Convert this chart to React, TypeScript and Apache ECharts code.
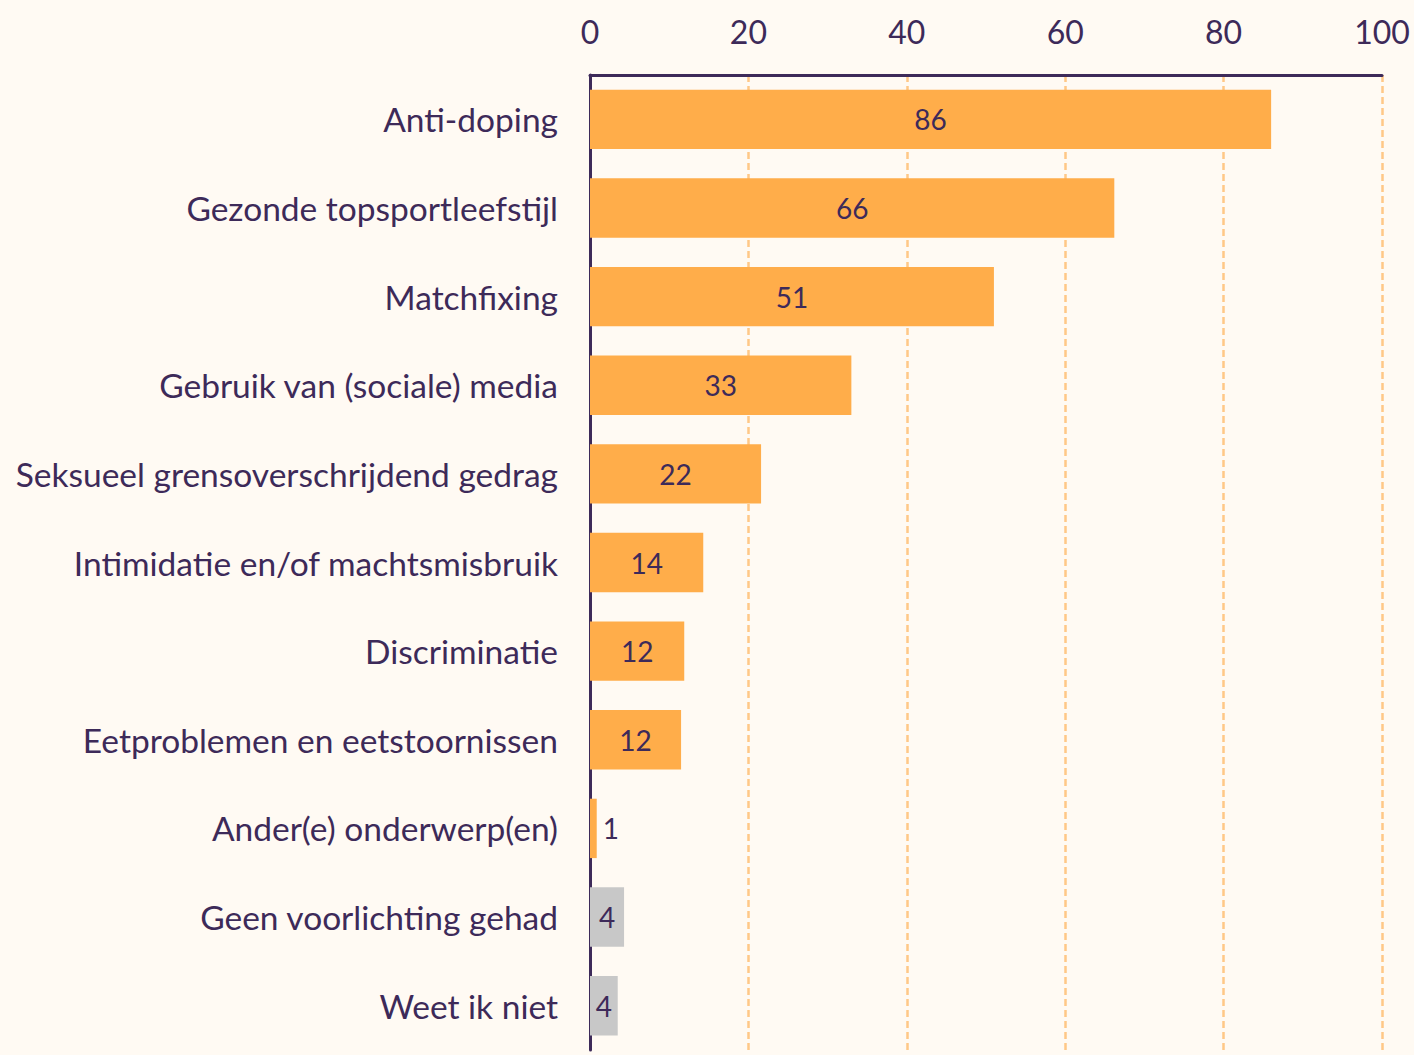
import { useEffect, useRef } from 'react';
import * as echarts from 'echarts';

const categories = [
  'Anti-doping',
  'Gezonde topsportleefstijl',
  'Matchfixing',
  'Gebruik van (sociale) media',
  'Seksueel grensoverschrijdend gedrag',
  'Intimidatie en/of machtsmisbruik',
  'Discriminatie',
  'Eetproblemen en eetstoornissen',
  'Ander(e) onderwerp(en)',
  'Geen voorlichting gehad',
  'Weet ik niet',
];
const values = [86, 66.2, 51, 33, 21.6, 14.3, 11.9, 11.5, 0.85, 4.3, 3.5];
const isGray = [false, false, false, false, false, false, false, false, false, true, true];
const xTicks = [0, 20, 40, 60, 80, 100];

const TEXT = '#3d2a59';
const ORANGE = '#ffad4a';
const GRAY = '#c8c8c8';
const BG = '#fffaf3';

export default function App() {
  const chartRef = useRef<HTMLDivElement>(null);

  useEffect(() => {
    if (!chartRef.current) return;
    document.body.style.margin = '0';
    document.body.style.background = BG;
    const chart = echarts.init(chartRef.current, null, { renderer: 'svg' });

    const data = values.map((v, i) => ({
      value: v,
      itemStyle: { color: isGray[i] ? GRAY : ORANGE },
      label: { position: v < 2 ? 'right' : 'inside', distance: 6 },
    }));

    chart.setOption({
      animation: false,
      backgroundColor: BG,
      textStyle: { fontFamily: 'Lato' },
      grid: { left: 590, right: 32, top: 75, bottom: 5, containLabel: false },
      xAxis: {
        type: 'value',
        position: 'top',
        min: xTicks[0],
        max: xTicks[xTicks.length - 1],
        interval: 20,
        axisLine: { show: true, lineStyle: { color: TEXT, width: 3 } },
        axisTick: { show: false },
        axisLabel: { color: TEXT, fontSize: 32, margin: 28, fontFamily: 'Lato' },
        splitLine: { show: true, lineStyle: { color: '#ffc887', type: [7, 4], width: 2.5 } },
      },
      yAxis: {
        type: 'category',
        data: categories,
        inverse: true,
        axisLine: { show: true, lineStyle: { color: TEXT, width: 3 } },
        axisTick: { show: false },
        axisLabel: { color: TEXT, fontSize: 33.5, margin: 32, fontFamily: 'Lato' },
      },
      series: [
        {
          type: 'bar',
          data,
          barCategoryGap: '33%',
          label: {
            show: true,
            color: TEXT,
            fontSize: 28,
            fontFamily: 'Lato',
            formatter: (p: any) => String(Math.round(p.value)),
          },
        },
      ],
    });

    return () => chart.dispose();
  }, []);

  return <div ref={chartRef} style={{ width: 1414, height: 1055 }} />;
}
